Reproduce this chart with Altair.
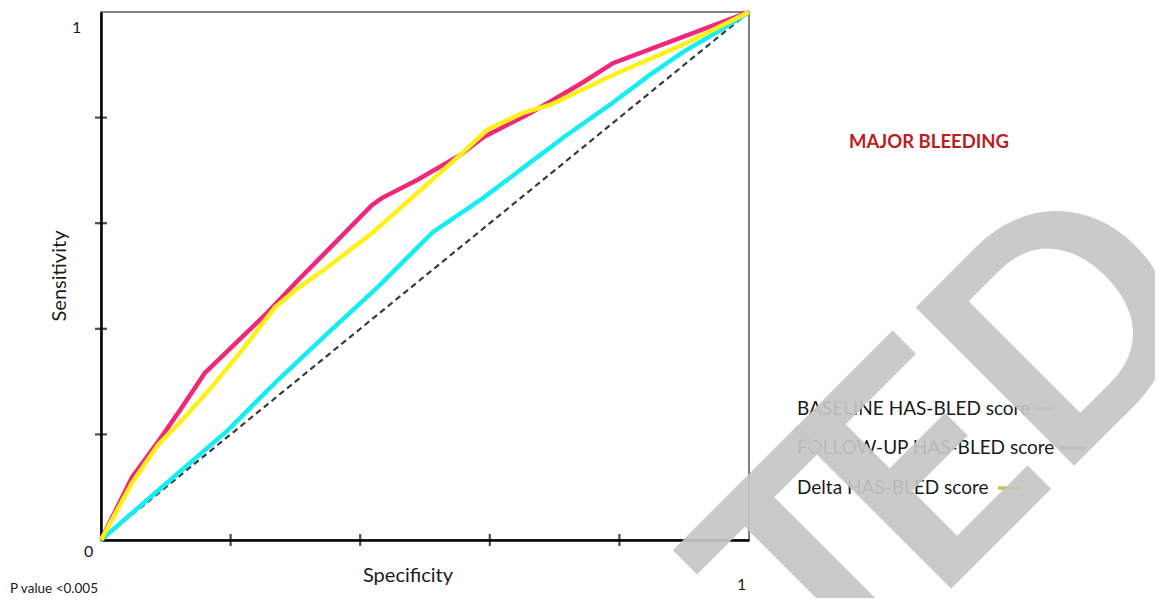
import altair as alt
import pandas as pd

# ---- data ----
base_fpr = [0.0, 0.094, 0.196, 0.273, 0.350, 0.427, 0.512, 0.590, 0.657, 0.719, 0.785, 0.847, 0.898, 0.951, 1.0]
base_tpr = [0.0, 0.100, 0.208, 0.303, 0.392, 0.479, 0.583, 0.648, 0.710, 0.767, 0.824, 0.881, 0.924, 0.962, 1.0]

fu_fpr = [0.0, 0.048, 0.088, 0.122, 0.160, 0.176, 0.258, 0.304, 0.350, 0.418, 0.434, 0.488, 0.554, 0.590, 0.657, 0.693, 0.744, 0.790, 0.898, 1.0]
fu_tpr = [0.0, 0.119, 0.186, 0.246, 0.316, 0.335, 0.432, 0.492, 0.549, 0.634, 0.648, 0.682, 0.729, 0.763, 0.805, 0.830, 0.867, 0.903, 0.953, 1.0]

delta_fpr = [0.0, 0.048, 0.088, 0.125, 0.171, 0.218, 0.269, 0.304, 0.350, 0.418, 0.488, 0.554, 0.596, 0.651, 0.693, 0.796, 0.898, 1.0]
delta_tpr = [0.0, 0.108, 0.180, 0.227, 0.290, 0.360, 0.441, 0.477, 0.517, 0.581, 0.657, 0.729, 0.777, 0.809, 0.824, 0.884, 0.938, 1.0]

ref_x = [0.0, 1.0]
ref_y = [0.0, 1.0]

tick_vals = [0.2, 0.4, 0.6, 0.8]

legend_labels = ["BASELINE HAS-BLED score", "FOLLOW-UP HAS-BLED score", "Delta HAS-BLED score"]
title_text = "MAJOR BLEEDING"
x_title = "Specificity"
y_title = "Sensitivity"
p_text = "P value <0.005"
watermark_letters = ["T", "E", "D"]   # visible tail of the "RETRACTED" stamp

FONT = "Lato"
xs = alt.Scale(domain=[0, 1], nice=False, zero=False)
ys = alt.Scale(domain=[0, 1], nice=False, zero=False)
ax = alt.Axis(domainColor="black", domainWidth=2.5, ticks=False, labels=False, title=None, grid=False)


def curve(fx, fy, color, width=4.5, dash=None):
    df = pd.DataFrame({"fpr": fx, "tpr": fy, "i": range(len(fx))})
    kw = dict(color=color, strokeWidth=width, clip=False)
    if dash:
        kw["strokeDash"] = dash
    return alt.Chart(df).mark_line(**kw).encode(
        x=alt.X("fpr:Q", scale=xs, axis=ax),
        y=alt.Y("tpr:Q", scale=ys, axis=ax),
        order="i:Q",
    )


def label(text, x, y, size, color="#1a1a1a", bold=False, angle=0, align="left", font=FONT, opacity=1.0, baseline="middle"):
    df = pd.DataFrame({"t": [text]})
    return alt.Chart(df).mark_text(
        font=font, fontSize=size, fontWeight="bold" if bold else "normal",
        color=color, angle=angle, align=align, baseline=baseline, opacity=opacity,
    ).encode(x=alt.value(x), y=alt.value(y), text="t:N")


def seg(x1, x2, y, color):
    df = pd.DataFrame({"t": [0]})
    return alt.Chart(df).mark_rule(color=color, strokeWidth=3.5).encode(
        x=alt.value(x1), x2=alt.value(x2), y=alt.value(y)
    )


def stamp(letter, x, y):
    return label(letter, x, y, 310, color="#c6c6c6", bold=True, angle=315, align="left",
                 font="Lato", opacity=0.92, baseline="alphabetic")


ref = curve(ref_x, ref_y, "#3a3a3a", width=2.2, dash=[6, 4])
cyan = curve(base_fpr, base_tpr, "#17ecf2")
pink = curve(fu_fpr, fu_tpr, "#f0287c")
yellow = curve(delta_fpr, delta_tpr, "#fff01a")

tdf = pd.DataFrame({"v": tick_vals})
yticks = alt.Chart(tdf).mark_tick(orient="horizontal", size=12, thickness=2.2, color="black").encode(
    y=alt.Y("v:Q", scale=ys), x=alt.X(datum=0, scale=xs)
)
xticks = alt.Chart(tdf).mark_tick(orient="vertical", size=12, thickness=2.2, color="black").encode(
    x=alt.X("v:Q", scale=xs), y=alt.Y(datum=0, scale=ys)
)

layers = [
    ref, cyan, pink, yellow, yticks, xticks,
    label("1", -29, 16, 16),
    label("0", -17, 540, 16),
    label("1", 636, 573, 16),
    label(y_title, -41, 264, 20, angle=270, align="center"),
    label(x_title, 307, 564, 20, align="center"),
    label(p_text, -91, 577, 13.5),
    label(title_text, 748, 130, 18.5, color="#bb1e1c", bold=True),
    label(legend_labels[0], 696, 397, 19),
    label(legend_labels[1], 696, 436, 19),
    label(legend_labels[2], 696, 476, 19),
    seg(934, 952, 397, "#3fc9cd"),
    seg(959, 984, 436, "#e2367d"),
    seg(897, 920, 476, "#cdc24a"),
    stamp(watermark_letters[0], 727, 700),
    stamp(watermark_letters[1], 832.5, 594.5),
    stamp(watermark_letters[2], 955.5, 471.5),
]

chart = alt.layer(*layers).properties(
    width=648, height=528,
    autosize=alt.AutoSizeParams(type="none"),
    padding={"left": 93, "top": 4, "right": 406, "bottom": 58},
).configure_view(stroke="#555555", strokeWidth=1.5)

chart.save("out.html", embed_options={"renderer": "svg", "actions": False})
